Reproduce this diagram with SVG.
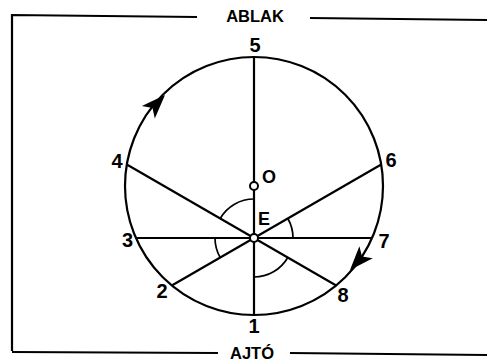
<svg xmlns="http://www.w3.org/2000/svg" width="487" height="361" viewBox="0 0 487 361">
<style>
.ln{stroke:#000;stroke-width:2.2;fill:none;stroke-linecap:butt}
.thin{stroke:#000;stroke-width:1.7;fill:none}
.t{font-family:"Liberation Sans",Arial,sans-serif;font-weight:bold;fill:#000;text-anchor:middle}
.d{font-size:20px}
.w{font-size:16.5px}
.pt{fill:#fff;stroke:#000;stroke-width:2}
.ah{fill:#000;stroke:none}
</style>
<defs>
<path id="head" d="M0,0 L-24,-9 L-18,0 L-24,9 Z"/>
</defs>
<rect width="487" height="361" fill="#fff"/>
<g id="frame">
<path class="ln" d="M12,351 L12,15 L197,17"/>
<path class="ln" d="M310,18 L487,20"/>
<path class="ln" d="M12,352 L218,353"/>
<path class="ln" d="M290,353 L487,355"/>
<text class="t w" x="255" y="22">ABLAK</text>
<text class="t w" x="252" y="359">AJTÓ</text>
</g>
<g id="circle">
<circle class="ln" cx="254" cy="186" r="129"/>
<use href="#head" class="ah" transform="translate(165,95) rotate(-46)"/>
<use href="#head" class="ah" transform="translate(350,270) rotate(132)"/>
</g>
<g id="connectors">
<line class="ln" x1="254" y1="57" x2="254" y2="315"/>
<line class="ln" x1="135.9" y1="238" x2="372.1" y2="238"/>
<line class="ln" x1="126.8" y1="164.5" x2="336.2" y2="285.5"/>
<line class="ln" x1="381.2" y1="164.5" x2="171.8" y2="285.5"/>
<path class="thin" d="M254,199 A39,39 0 0 0 220.2,218.5"/>
<path class="thin" d="M293,238 A39,39 0 0 0 287.8,218.5"/>
<path class="thin" d="M215,238 A39,39 0 0 0 220.2,257.5"/>
<path class="thin" d="M254,277 A39,39 0 0 0 287.8,257.5"/>
</g>
<g id="point-O">
<circle class="pt" cx="254" cy="186" r="4"/>
<text class="t" style="font-size:18px" x="269" y="183">O</text>
</g>
<g id="point-E">
<circle class="pt" cx="254" cy="238" r="4"/>
<text class="t" style="font-size:18px" x="264" y="225">E</text>
</g>
<g id="label-1"><text class="t d" x="254" y="333">1</text></g>
<g id="label-2"><text class="t d" x="162" y="298">2</text></g>
<g id="label-3"><text class="t d" x="127.5" y="247">3</text></g>
<g id="label-4"><text class="t d" x="117" y="168">4</text></g>
<g id="label-5"><text class="t d" x="255" y="52">5</text></g>
<g id="label-6"><text class="t d" x="391" y="167">6</text></g>
<g id="label-7"><text class="t d" x="384" y="248">7</text></g>
<g id="label-8"><text class="t d" x="343" y="302">8</text></g>
</svg>
